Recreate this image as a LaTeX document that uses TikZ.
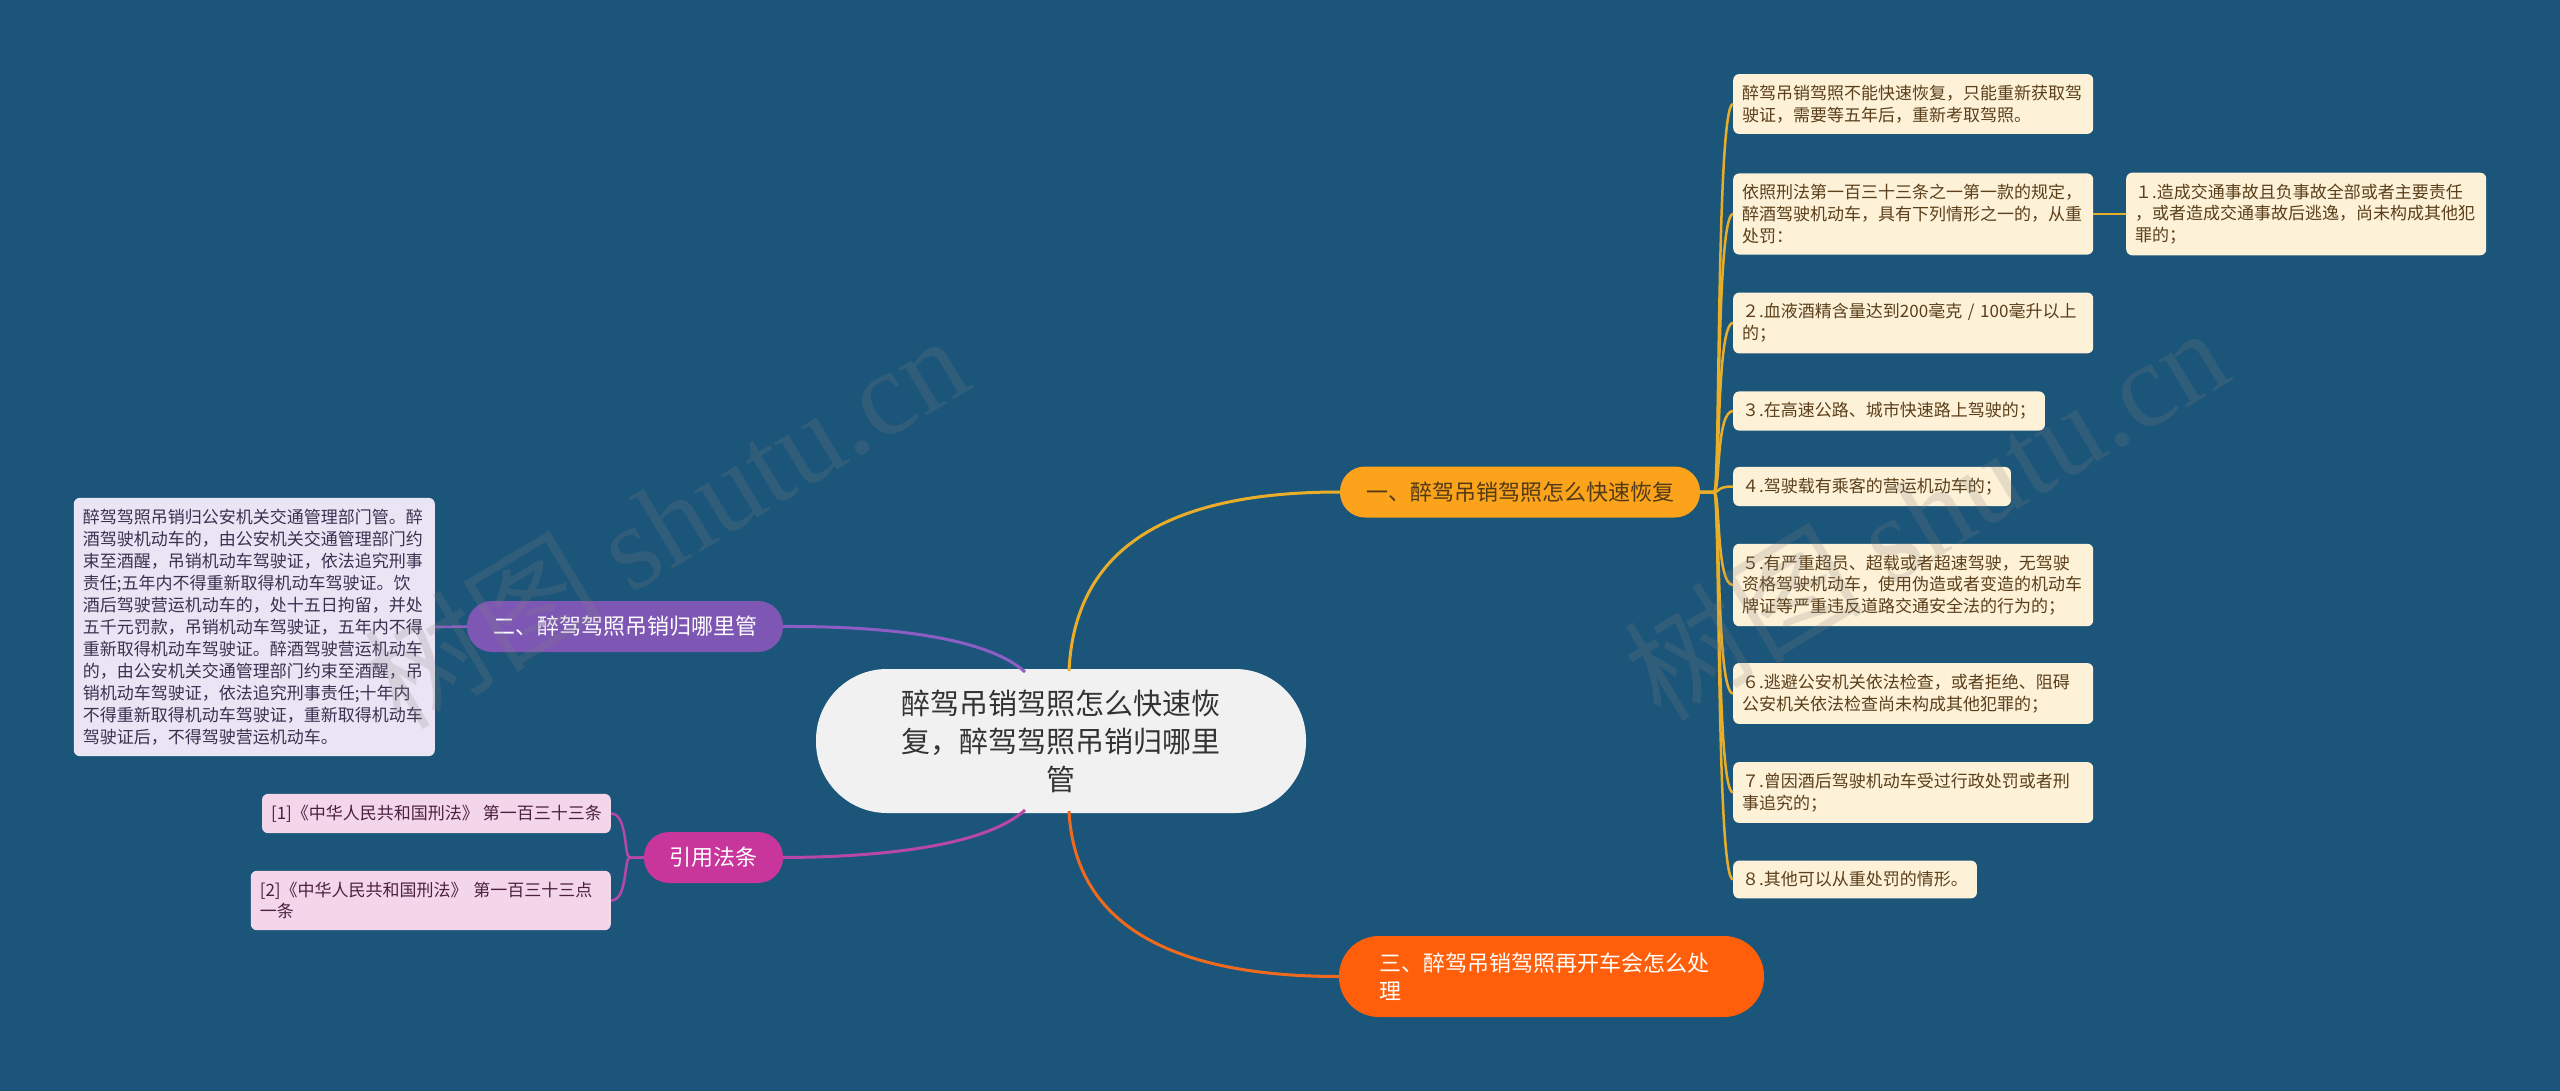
\documentclass[tikz,border=0pt]{standalone}
\usepackage{fontspec}
\setmainfont{Noto Sans CJK SC}
\newfontfamily\wmserif{Liberation Serif}
\usetikzlibrary{calc}
\definecolor{mmbg}{HTML}{1B5579}
\definecolor{mmcenter}{HTML}{F1F1F1}
\definecolor{mmyellow}{HTML}{FAA31B}
\definecolor{mmyline}{HTML}{E8AE2A}
\definecolor{mmcream}{HTML}{FDF1D8}
\definecolor{mmbrown}{HTML}{5B3F1A}
\definecolor{mmpurple}{HTML}{7E57B5}
\definecolor{mmpline}{HTML}{8C5EC4}
\definecolor{mmlav}{HTML}{EAE5F4}
\definecolor{mmlavtext}{HTML}{3A3150}
\definecolor{mmmagenta}{HTML}{C8369C}
\definecolor{mmmline}{HTML}{B847AA}
\definecolor{mmpink}{HTML}{F4D6EB}
\definecolor{mmpinktext}{HTML}{4B2040}
\definecolor{mmorange}{HTML}{FF5F0A}
\definecolor{mmoline}{HTML}{F06A1E}
\tikzset{
  topic/.style={fill=mmcenter, rounded corners=71pt, align=center, text=black!80,
    minimum width=490pt, minimum height=144pt, font=\fontsize{29}{38}\selectfont},
  branch/.style={rounded corners=25pt, minimum height=51pt, inner xsep=0pt,
    font=\fontsize{22}{28}\selectfont},
  leaf/.style={fill=mmcream, text=mmbrown, rounded corners=6pt, align=left,
    anchor=west, inner xsep=9pt, inner ysep=11pt, font=\fontsize{17}{21.7}\selectfont},
  leafw/.style={leaf, text width=342pt},
  note/.style={fill=mmlav, text=mmlavtext, rounded corners=6pt, align=left,
    text width=343pt, inner xsep=9pt, inner ysep=11pt, font=\fontsize{17}{22}\selectfont},
  refbox/.style={fill=mmpink, text=mmpinktext, rounded corners=6pt, align=left,
    anchor=east, inner xsep=9pt, inner ysep=11pt, font=\fontsize{17}{21.7}\selectfont},
  conn/.style={line width=3pt},
  twig/.style={line width=2.5pt},
  wmark/.style={text=gray, opacity=0.2, font=\fontsize{120}{120}\selectfont},
}
\begin{document}
\begin{tikzpicture}[x=1pt, y=-1pt]
        \fill[mmbg] (0,0) rectangle (2560,1091);
        \useasboundingbox (0,0) rectangle (2560,1091);
        \node[topic] (c) at (1061,741) {醉驾吊销驾照怎么快速恢\\复，醉驾驾照吊销归哪里\\管};
        \node[branch, fill=mmyellow, text=mmbrown!90!black, minimum width=360pt] (b1) at (1520,492) {一、醉驾吊销驾照怎么快速恢复};
        \node[branch, fill=mmpurple, text=white, minimum width=316pt] (b2) at (625,626.5) {二、醉驾驾照吊销归哪里管};
        \node[branch, fill=mmmagenta, text=white, minimum width=139pt] (b3) at (713.5,857.5) {引用法条};
        \node[branch, fill=mmorange, text=white, rounded corners=40pt, align=left,
          text width=345pt, inner xsep=40pt, minimum height=81pt] (b4) at (1551.5,976.5)
          {三、醉驾吊销驾照再开车会怎么处\\理};
        \node[leafw] (l1) at (1733,104) {醉驾吊销驾照不能快速恢复，只能重新获取驾\\驶证，需要等五年后，重新考取驾照。};
        \node[leafw] (l2) at (1733,214) {依照刑法第一百三十三条之一第一款的规定，\\醉酒驾驶机动车，具有下列情形之一的，从重\\处罚：};
        \node[leafw] (l3) at (1733,323) {２.血液酒精含量达到200毫克 / 100毫升以上\\的；};
        \node[leaf] (l4) at (1733,411) {３.在高速公路、城市快速路上驾驶的；};
        \node[leaf] (l5) at (1733,486.5) {４.驾驶载有乘客的营运机动车的；};
        \node[leafw] (l6) at (1733,585) {５.有严重超员、超载或者超速驾驶，无驾驶\\资格驾驶机动车，使用伪造或者变造的机动车\\牌证等严重违反道路交通安全法的行为的；};
        \node[leafw] (l7) at (1733,693.5) {６.逃避公安机关依法检查，或者拒绝、阻碍\\公安机关依法检查尚未构成其他犯罪的；};
        \node[leafw] (l8) at (1733,792.5) {７.曾因酒后驾驶机动车受过行政处罚或者刑\\事追究的；};
        \node[leaf] (l9) at (1733,879.5) {８.其他可以从重处罚的情形。};
        \node[leafw] (l2a) at (2126,214) {１.造成交通事故且负事故全部或者主要责任\\，或者造成交通事故后逃逸，尚未构成其他犯\\罪的；};
        \node[note, anchor=east] (n1) at (435,627) {醉驾驾照吊销归公安机关交通管理部门管。醉\\酒驾驶机动车的，由公安机关交通管理部门约\\束至酒醒，吊销机动车驾驶证，依法追究刑事\\责任;五年内不得重新取得机动车驾驶证。饮\\酒后驾驶营运机动车的，处十五日拘留，并处\\五千元罚款，吊销机动车驾驶证，五年内不得\\重新取得机动车驾驶证。醉酒驾驶营运机动车\\的，由公安机关交通管理部门约束至酒醒，吊\\销机动车驾驶证，依法追究刑事责任;十年内\\不得重新取得机动车驾驶证，重新取得机动车\\驾驶证后，不得驾驶营运机动车。};
        \node[refbox] (r1) at (611,813.5) {[1]《中华人民共和国刑法》 第一百三十三条};
        \node[refbox, text width=342pt] (r2) at (611,900.5) {[2]《中华人民共和国刑法》 第一百三十三点\\一条};
        \draw[conn, mmyline] (1069,671) .. controls (1075,540) and (1180,492) .. (b1.west);
        \draw[conn, mmpline] (b2.east) .. controls (900,626) and (990,640) .. (1025,672);
        \draw[conn, mmmline] (b3.east) .. controls (900,857) and (990,842) .. (1025,810);
        \draw[conn, mmoline] (1069,811) .. controls (1075,930) and (1180,976.5) .. (b4.west);
        \foreach \n in {l1,l2,l3,l4,l5,l6,l7,l8,l9} {
          \draw[twig, mmyline] (b1.east) -- ++(14,0) .. controls +(6,0) and ($(\n.west)+(-17,0)$) .. (\n.west);
        }
        \draw[twig, mmyline] (l2.east) -- (l2a.west);
        \draw[twig, mmpline] (b2.west) -- (n1.east);
        \foreach \n in {r1,r2} {
          \draw[twig, mmmline] (b3.west) -- ++(-14,0) .. controls +(-6,0) and ($(\n.east)+(17,0)$) .. (\n.east);
        }
        \node[wmark, rotate=31] (w1) at (665,520) {树图 {\wmserif shutu.cn}};
        \node[wmark, rotate=31] (w2) at (1925,512) {树图 {\wmserif shutu.cn}};
\end{tikzpicture}
\end{document}
